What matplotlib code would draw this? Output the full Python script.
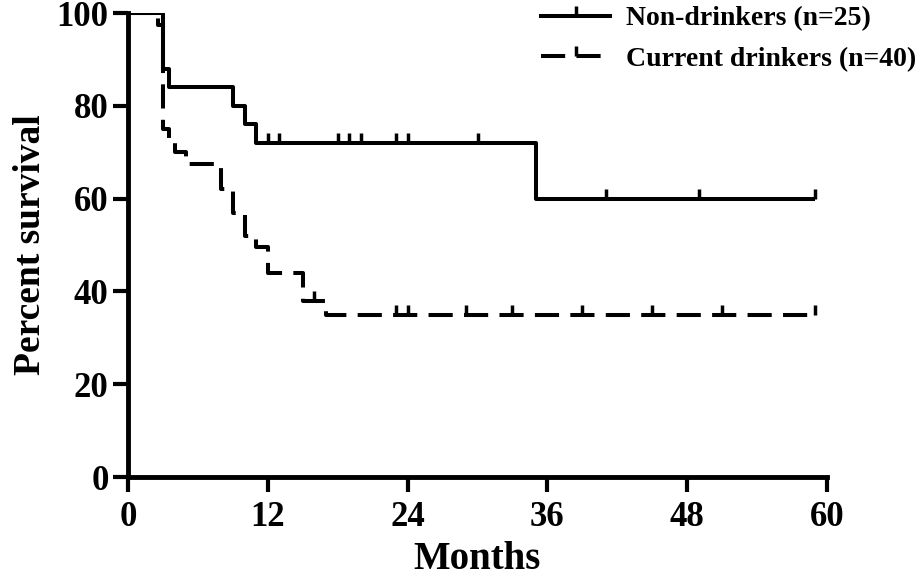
import matplotlib
matplotlib.use("Agg")
import matplotlib.pyplot as plt
from matplotlib.lines import Line2D

# DATA ##########################################

# Kaplan-Meier steps (months, percent survival)
non_t = [0, 3, 3.5, 9, 10, 11, 35, 59]
non_s = [100, 88, 84, 80, 76, 72, 60, 60]
non_cens_t = [12, 13, 18, 19, 20, 23, 24, 30, 41, 49, 59]

cur_t = [0, 2.6, 3, 3.5, 4, 5, 8, 9, 10, 11, 12, 15, 17, 59]
cur_s = [100, 97.5, 75, 72.5, 70, 67.5, 62, 57, 52, 49.5, 44, 38, 35, 35]
cur_cens_t = [16, 23, 24, 29, 33, 39, 45, 51, 59]

labels = ["Non-drinkers (n=25)", "Current drinkers (n=40)"]
x_ticks = [0, 12, 24, 36, 48, 60]
y_ticks = [0, 20, 40, 60, 80, 100]


def surv_at(ts, ss, t):
    val = ss[0]
    for ti, si in zip(ts, ss):
        if ti <= t:
            val = si
    return val


# SETUP #########################################

plt.rcParams.update({
    "font.family": "Liberation Serif",
    "font.weight": "bold",
})

fig = plt.figure(figsize=(9.21, 5.82), dpi=100)
ax = fig.add_axes([128/921, 1 - 477/582, (827 - 128)/921, (477 - 13)/582])

lw = 2.9
dash = (0, (6, 2.8))
tick_marker = [(0, 0), (0, 1)]

# PLOTTING ######################################

ax.step(non_t, non_s, where="post", color="black", lw=lw, solid_capstyle="butt")
ax.step(cur_t, cur_s, where="post", color="black", lw=lw, linestyle=dash)

ax.plot(non_cens_t, [surv_at(non_t, non_s, t) for t in non_cens_t],
        linestyle="none", marker=tick_marker, ms=15, mew=2.5, mec="black")
ax.plot(cur_cens_t, [surv_at(cur_t, cur_s, t) for t in cur_cens_t],
        linestyle="none", marker=tick_marker, ms=15, mew=2.5, mec="black")

# AXES ##########################################

ax.set_xlim(0, 60)
ax.set_ylim(0, 100)
ax.set_xticks(x_ticks)
ax.set_yticks(y_ticks)
ax.tick_params(direction="out", length=11, width=3, labelsize=25)
ax.tick_params(axis="x", pad=6)
ax.tick_params(axis="y", pad=3)
for side in ["top", "right"]:
    ax.spines[side].set_visible(False)
for side in ["left", "bottom"]:
    ax.spines[side].set_linewidth(3.5)

ax.set_xlabel("Months", fontsize=28, fontweight="bold", labelpad=5)
ax.set_ylabel("Percent survival", fontsize=27, fontweight="bold", labelpad=6)

# LEGEND ########################################

handles = [
    Line2D([], [], color="black", lw=lw, marker=tick_marker, ms=15, mew=2.5),
    Line2D([], [], color="black", lw=lw, linestyle=dash, marker=tick_marker, ms=15, mew=2.5),
]
fig.legend(handles, labels, loc="upper left", bbox_to_anchor=(516/921, 1.033),
           frameon=False, numpoints=1, handlelength=2.5, handletextpad=0.55,
           labelspacing=0.55, prop={"family": "Liberation Serif", "weight": "bold", "size": 20})

fig.savefig("out.png", dpi=100)
